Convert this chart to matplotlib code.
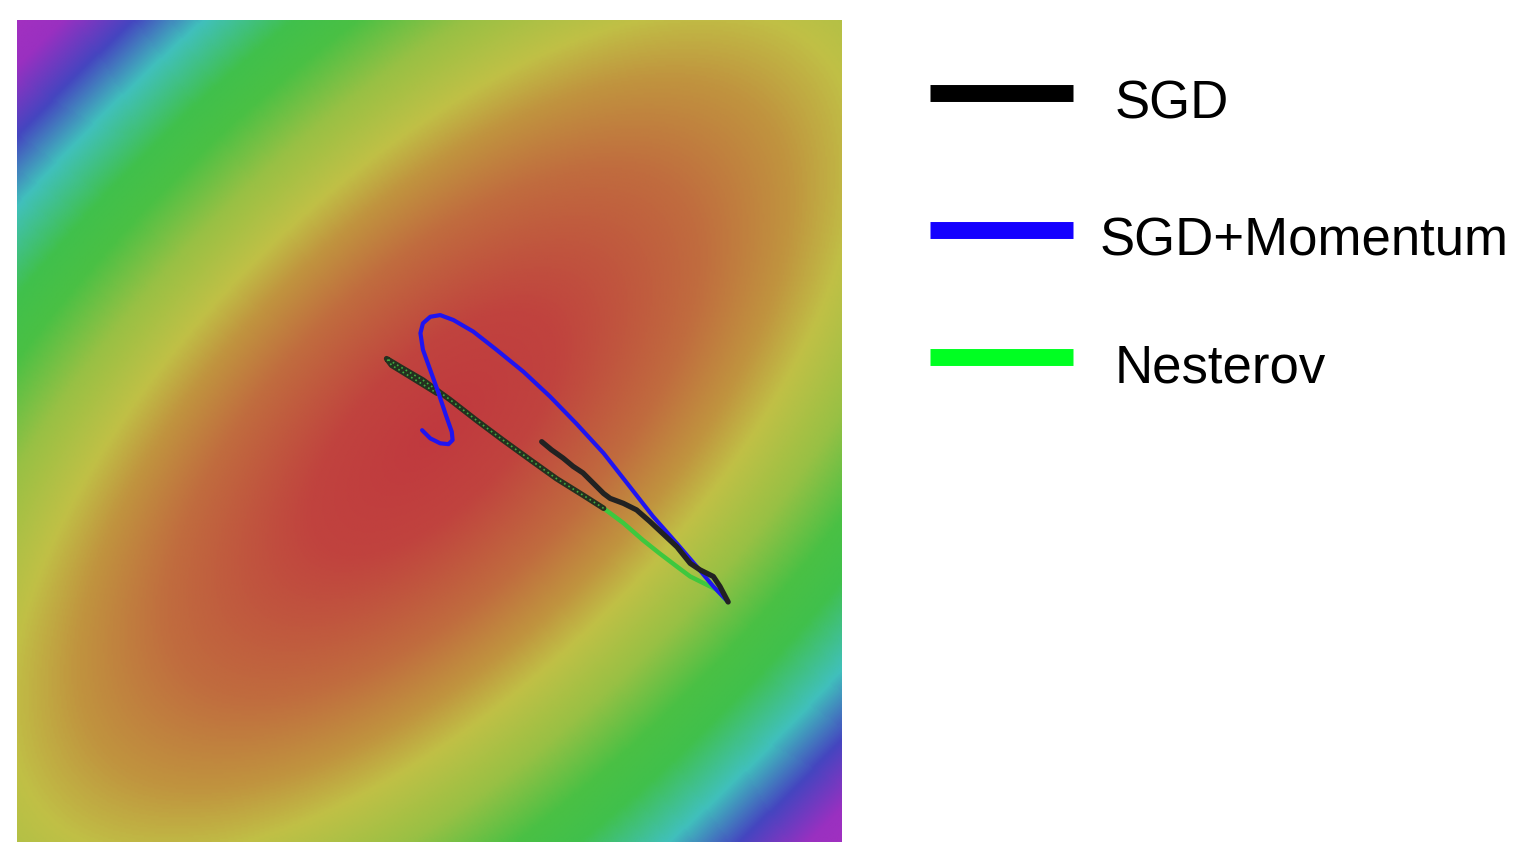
import numpy as np
import matplotlib
matplotlib.use('Agg')
from matplotlib import pyplot as plt
from matplotlib.colors import LinearSegmentedColormap
from matplotlib.lines import Line2D

# ~~~~~~~~~~~~~~~~~~~~ data ~~~~~~~~~~~~~~~~~~~~
# optimizer paths (plot units 0..100, y up)
sgd_x = [63.6, 64.8, 66.2, 67.4, 68.6, 69.9, 71.1, 71.9, 73.5, 75.1, 76.7, 78.3, 80.0,
         81.6, 82.8, 84.4, 85.2, 86.2]
sgd_y = [48.7, 47.7, 46.7, 45.7, 44.9, 43.6, 42.4, 41.8, 41.2, 40.4, 39.0, 37.5, 35.9,
         33.9, 33.1, 32.3, 31.1, 29.2]

mom_x = [86.2, 84.4, 82.4, 80.0, 77.1, 74.3, 71.1, 67.8, 64.6, 61.4, 58.1, 55.3, 52.9,
         51.3, 50.1, 49.2, 48.9, 49.2, 50.1, 51.1, 52.0, 52.7, 52.8, 52.3, 51.3, 50.1, 49.1]
mom_y = [29.2, 31.1, 33.5, 36.3, 39.6, 43.2, 47.3, 50.9, 54.2, 57.2, 59.9, 62.1, 63.5,
         64.1, 63.9, 63.1, 61.9, 59.9, 57.4, 54.6, 51.9, 49.9, 48.9, 48.4, 48.5, 49.1, 50.1]

nes_x = [86.2, 84.8, 83.2, 81.6, 80.0, 77.9, 75.9, 73.5, 71.1, 68.6, 65.4, 62.2, 58.9,
         55.7, 52.5, 49.2, 46.8, 44.8, 45.4, 48.0, 50.9]
nes_y = [29.2, 30.7, 31.5, 32.3, 33.5, 35.1, 36.7, 38.8, 40.6, 42.2, 44.2, 46.5, 48.9,
         51.3, 53.8, 56.2, 57.6, 58.8, 58.0, 56.4, 54.6]
nes_split = 8  # from this point on the path is drawn dark

labels = ['SGD', 'SGD+Momentum', 'Nesterov']

# loss surface: elongated bowl along the diagonal
center = (50.5, 49.7)
semi_long = 63.6
semi_short = 29.1

# colour stops (distance from the minimum, colour)
stop_r = [0.0, 0.3, 0.65, 0.88, 1.04, 1.28, 1.52, 1.68, 1.92, 2.12, 2.32, 2.5]
stop_c = ['#c0393e', '#c0433e', '#c06c3e', '#c0953f', '#c0c046', '#98c044',
          '#4ac044', '#40c04c', '#40c0bc', '#4545c0', '#9a30c0', '#a530c0']

# ~~~~~~~~~~~~~~~~~~~~ surface ~~~~~~~~~~~~~~~~~~~~
xs = np.linspace(0, 100, 500)
ys = np.linspace(0, 100, 500)
X, Y = np.meshgrid(xs, ys)
dx = X - center[0]
dy = Y - center[1]
u = (dx + dy) / np.sqrt(2)
v = (dx - dy) / np.sqrt(2)
R = np.sqrt((u / semi_long) ** 2 + (v / semi_short) ** 2)

rmax = stop_r[-1]
cmap = LinearSegmentedColormap.from_list(
    'bowl', [(r / rmax, c) for r, c in zip(stop_r, stop_c)])

fig = plt.figure(figsize=(15.3, 8.64), dpi=100)
ax = fig.add_axes([17 / 1530, 22 / 864, 825 / 1530, 822 / 864])
ax.imshow(R, origin='lower', extent=(0, 100, 0, 100), cmap=cmap, vmin=0, vmax=rmax,
          interpolation='bilinear', aspect='auto')

# ~~~~~~~~~~~~~~~~~~~~ paths ~~~~~~~~~~~~~~~~~~~~
kw = dict(solid_capstyle='round', solid_joinstyle='round')
ax.plot(nes_x[:nes_split + 1], nes_y[:nes_split + 1], color='#3ec83e', lw=3.2, **kw)
ax.plot(nes_x[nes_split:], nes_y[nes_split:], color='#24301f', lw=4.0, **kw)
ax.plot(nes_x[nes_split:], nes_y[nes_split:], color='#3fae3f', lw=1.2,
        linestyle=(0, (1, 2)))
ax.plot(mom_x, mom_y, color='#1f14f0', lw=3.0, **kw)
ax.plot(sgd_x, sgd_y, color='#222222', lw=3.8, **kw)

ax.set_xlim(0, 100)
ax.set_ylim(0, 100)
ax.axis('off')

# ~~~~~~~~~~~~~~~~~~~~ legend ~~~~~~~~~~~~~~~~~~~~
leg_colors = ['#000000', '#1400ff', '#00ff22']
leg_y = [1 - 93 / 864, 1 - 230 / 864, 1 - 357 / 864]
txt_x = [1115 / 1530, 1100 / 1530, 1115 / 1530]
for lab, c, yy, tx in zip(labels, leg_colors, leg_y, txt_x):
    fig.add_artist(Line2D([930 / 1530, 1073 / 1530], [yy, yy], color=c, lw=12.2,
                          solid_capstyle='butt', transform=fig.transFigure))
    fig.text(tx, yy - 0.013, lab, fontsize=38, family='Liberation Sans',
             va='center', ha='left')

fig.savefig('out.png', dpi=100)
